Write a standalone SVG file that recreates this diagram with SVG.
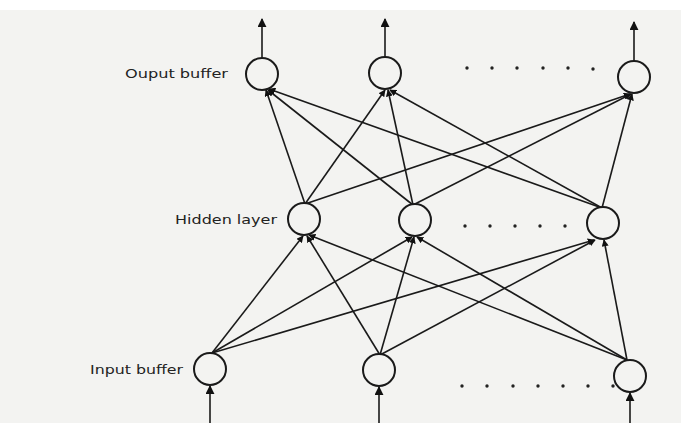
<svg xmlns="http://www.w3.org/2000/svg" width="681" height="423" viewBox="0 0 681 423">
<defs>
<style>
.bg{fill:#f3f3f1}
.node{fill:#f3f3f1;stroke:#1a1a1a;stroke-width:2}
.lbl{font-family:"DejaVu Sans",sans-serif;font-size:13px;fill:#222}
.edge{stroke:#1a1a1a;stroke-width:1.6;fill:none}
.dot{fill:#222}
</style>
<marker id="ah" viewBox="0 0 10 10" refX="9" refY="5" markerWidth="7" markerHeight="7" markerUnits="userSpaceOnUse" orient="auto">
<path d="M0,0 L10,5 L0,10 z" fill="#111"/>
</marker>
<marker id="ahb" viewBox="0 0 10 10" refX="9" refY="5" markerWidth="9" markerHeight="9" markerUnits="userSpaceOnUse" orient="auto">
<path d="M0,0 L10,5 L0,10 z" fill="#111"/>
</marker>
</defs>
<rect width="681" height="423" fill="#fff"/>
<rect class="bg" x="0" y="10" width="681" height="413"/>

<g id="connectors">
<line class="edge" x1="262" y1="58" x2="262" y2="19" marker-end="url(#ahb)"/>
<line class="edge" x1="385" y1="57" x2="385" y2="19" marker-end="url(#ahb)"/>
<line class="edge" x1="634" y1="61" x2="634" y2="22" marker-end="url(#ahb)"/>
<line class="edge" x1="210" y1="423" x2="210" y2="386" marker-end="url(#ahb)"/>
<line class="edge" x1="379" y1="423" x2="379" y2="387" marker-end="url(#ahb)"/>
<line class="edge" x1="630" y1="423" x2="630" y2="393" marker-end="url(#ahb)"/>
<line class="edge" x1="305" y1="204" x2="266" y2="90" marker-end="url(#ah)"/>
<line class="edge" x1="305" y1="204" x2="385" y2="90" marker-end="url(#ah)"/>
<line class="edge" x1="305" y1="204" x2="630" y2="94" marker-end="url(#ah)"/>
<line class="edge" x1="413" y1="205" x2="268" y2="90" marker-end="url(#ah)"/>
<line class="edge" x1="413" y1="205" x2="388" y2="90" marker-end="url(#ah)"/>
<line class="edge" x1="413" y1="205" x2="631" y2="94" marker-end="url(#ah)"/>
<line class="edge" x1="602" y1="208" x2="269" y2="89" marker-end="url(#ah)"/>
<line class="edge" x1="602" y1="208" x2="390" y2="90" marker-end="url(#ah)"/>
<line class="edge" x1="602" y1="208" x2="632" y2="94" marker-end="url(#ah)"/>
<line class="edge" x1="212" y1="353" x2="303" y2="236" marker-end="url(#ah)"/>
<line class="edge" x1="212" y1="353" x2="412" y2="237" marker-end="url(#ah)"/>
<line class="edge" x1="212" y1="353" x2="594" y2="240" marker-end="url(#ah)"/>
<line class="edge" x1="380" y1="355" x2="307" y2="236" marker-end="url(#ah)"/>
<line class="edge" x1="380" y1="355" x2="414" y2="237" marker-end="url(#ah)"/>
<line class="edge" x1="380" y1="355" x2="595" y2="240" marker-end="url(#ah)"/>
<line class="edge" x1="627" y1="360" x2="309" y2="235" marker-end="url(#ah)"/>
<line class="edge" x1="627" y1="360" x2="417" y2="237" marker-end="url(#ah)"/>
<line class="edge" x1="627" y1="360" x2="604" y2="240" marker-end="url(#ah)"/>
</g>

<g id="output1"><circle class="node" cx="262" cy="74" r="16"/><text class="lbl" x="125" y="78" textLength="103" lengthAdjust="spacingAndGlyphs">Ouput buffer</text></g>
<g id="output2"><circle class="node" cx="385" cy="73" r="16"/></g>
<g id="output3"><circle class="node" cx="634" cy="77" r="16"/></g>
<g id="hidden1"><circle class="node" cx="304" cy="219" r="16"/><text class="lbl" x="175" y="224" textLength="102" lengthAdjust="spacingAndGlyphs">Hidden layer</text></g>
<g id="hidden2"><circle class="node" cx="415" cy="220" r="16"/></g>
<g id="hidden3"><circle class="node" cx="603" cy="223" r="16"/></g>
<g id="input1"><circle class="node" cx="210" cy="369" r="16"/><text class="lbl" x="90" y="374" textLength="93" lengthAdjust="spacingAndGlyphs">Input buffer</text></g>
<g id="input2"><circle class="node" cx="379" cy="370" r="16"/></g>
<g id="input3"><circle class="node" cx="630" cy="376" r="16"/></g>

<g id="dots">
<circle class="dot" cx="467" cy="68" r="1.7"/><circle class="dot" cx="492" cy="68" r="1.7"/><circle class="dot" cx="517" cy="68" r="1.7"/><circle class="dot" cx="543" cy="68" r="1.7"/><circle class="dot" cx="568" cy="68" r="1.7"/><circle class="dot" cx="593" cy="69" r="1.7"/>
<circle class="dot" cx="465" cy="226" r="1.7"/><circle class="dot" cx="490" cy="226" r="1.7"/><circle class="dot" cx="515" cy="226" r="1.7"/><circle class="dot" cx="540" cy="226" r="1.7"/><circle class="dot" cx="565" cy="226" r="1.7"/>
<circle class="dot" cx="462" cy="386" r="1.7"/><circle class="dot" cx="487" cy="386" r="1.7"/><circle class="dot" cx="513" cy="386" r="1.7"/><circle class="dot" cx="538" cy="386" r="1.7"/><circle class="dot" cx="563" cy="386" r="1.7"/><circle class="dot" cx="588" cy="386" r="1.7"/><circle class="dot" cx="613" cy="386" r="1.7"/>
</g>
</svg>
